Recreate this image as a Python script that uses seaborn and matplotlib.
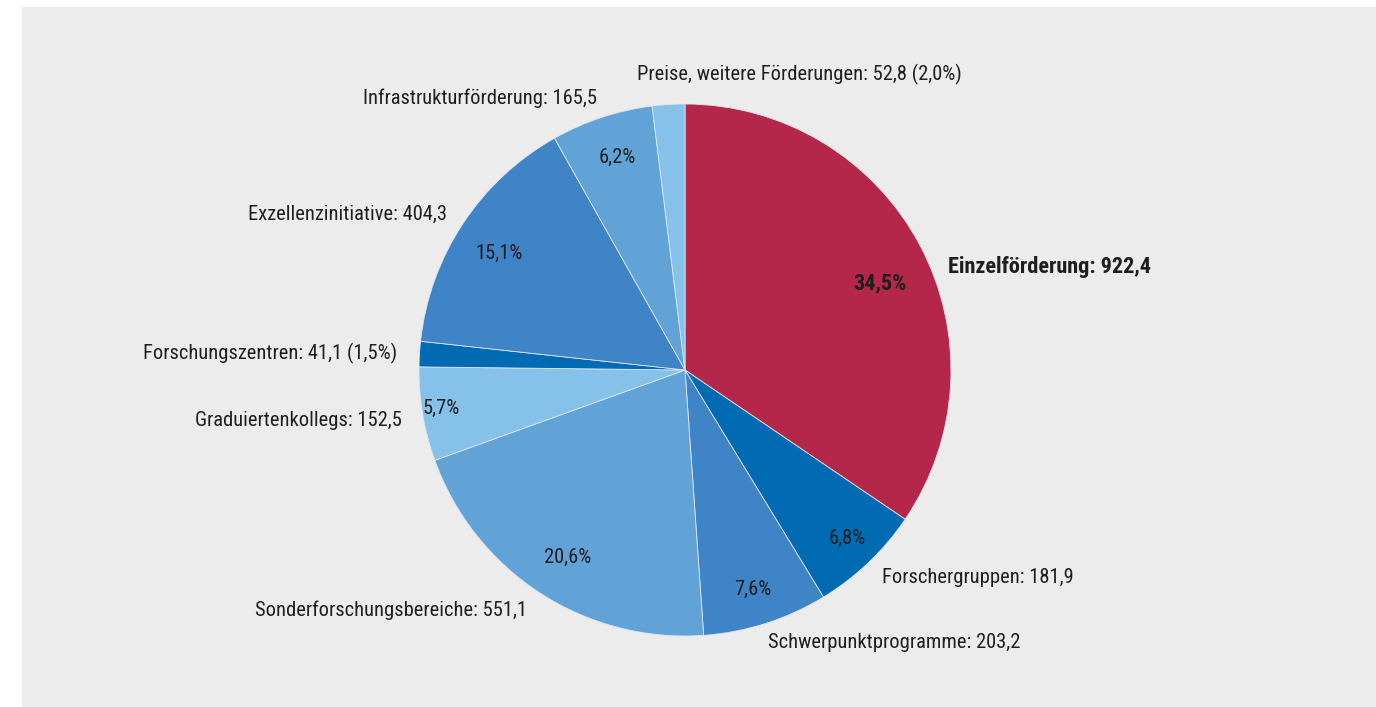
import matplotlib
matplotlib.use("Agg")
import matplotlib.pyplot as plt
import seaborn as sns
from matplotlib import font_manager
from matplotlib.patches import Rectangle

sns.set_theme(style="white")

# schmale Schrift suchen, sonst DejaVu Sans Condensed
namen = {f.name: f for f in font_manager.fontManager.ttflist}
schrift, dehnung = "DejaVu Sans", "condensed"
for kandidat in ["Liberation Sans Narrow", "Roboto Condensed", "Open Sans Condensed",
                 "Noto Sans Condensed", "DejaVu Sans Condensed"]:
    if kandidat in namen:
        schrift, dehnung = kandidat, "normal"
        break
else:
    for f in font_manager.fontManager.ttflist:
        if f.stretch in ("condensed", "semi-condensed") and f.style == "normal":
            schrift, dehnung = f.name, f.stretch
            break
plt.rcParams['font.family'] = [schrift, 'DejaVu Sans']
plt.rcParams['font.stretch'] = dehnung

# Daten (Mio. Euro), im Uhrzeigersinn ab 12 Uhr
bereiche = ["Einzelförderung", "Forschergruppen", "Schwerpunktprogramme",
            "Sonderforschungsbereiche", "Graduiertenkollegs", "Forschungszentren",
            "Exzellenzinitiative", "Infrastrukturförderung", "Preise, weitere Förderungen"]
betraege = [922.4, 181.9, 203.2, 551.1, 152.5, 41.1, 404.3, 165.5, 52.8]
anteile = ["34,5%", "6,8%", "7,6%", "20,6%", "5,7%", "1,5%", "15,1%", "6,2%", "2,0%"]
farben = ["#B5264B", "#006AB3", "#3F84C6", "#62A3D7", "#85C1E9",
          "#006AB3", "#3F84C6", "#62A3D7", "#85C1E9"]

W, H = 1376, 707
fig = plt.figure(figsize=(W / 100, H / 100), dpi=100)
fig.patch.set_facecolor("white")
ax = fig.add_axes([0, 0, 1, 1])

ax.add_patch(Rectangle((22, 0), W - 22, H - 7, facecolor="#ECECEC", edgecolor="none", zorder=0))

cx, cy, r = 685, H - 370, 266
ax.pie(betraege, colors=sns.color_palette(farben), startangle=90, counterclock=False,
       center=(cx, cy), radius=r, frame=True,
       wedgeprops=dict(edgecolor="#DDE6EE", linewidth=0.6, zorder=2))
ax.set_xlim(0, W)
ax.set_ylim(0, H)
ax.set_aspect("equal")
ax.axis("off")

txt = "#1E1E1E"
fs = 14.8

def fmt(v):
    return f"{v:.1f}".replace(".", ",")

# Außenbeschriftungen: (dx, dy) relativ zum Radius, Ausrichtung
aussen = [
    (0.99, 0.387, "left"),
    (0.741, -0.78, "left"),
    (0.312, -1.026, "left"),
    (-0.594, -0.902, "right"),
    (-1.064, -0.188, "right"),
    (-1.083, 0.064, "right"),
    (-0.895, 0.586, "right"),
    (-0.331, 1.02, "right"),
    (0.43, 1.11, "center"),
]
for i, (dx, dy, ha) in enumerate(aussen):
    label = f"{bereiche[i]}: {fmt(betraege[i])}"
    if i in (5, 8):
        label += f" ({anteile[i]})"
    ax.text(cx + dx * r, cy + dy * r, label, ha=ha, va="center",
            fontsize=16 if i == 0 else fs, color=txt,
            fontweight="bold" if i == 0 else "normal", zorder=3)

# Prozentwerte in den Segmenten
innen = {0: (0.733, 0.327), 1: (0.609, -0.632), 2: (0.256, -0.823),
         3: (-0.44, -0.703), 4: (-0.917, -0.143), 6: (-0.699, 0.44), 7: (-0.256, 0.80)}
for i, (dx, dy) in innen.items():
    ax.text(cx + dx * r, cy + dy * r, anteile[i], ha="center", va="center",
            fontsize=16 if i == 0 else fs, color=txt,
            fontweight="bold" if i == 0 else "normal", zorder=3)

fig.savefig("out.png", dpi=100, facecolor=fig.get_facecolor())
